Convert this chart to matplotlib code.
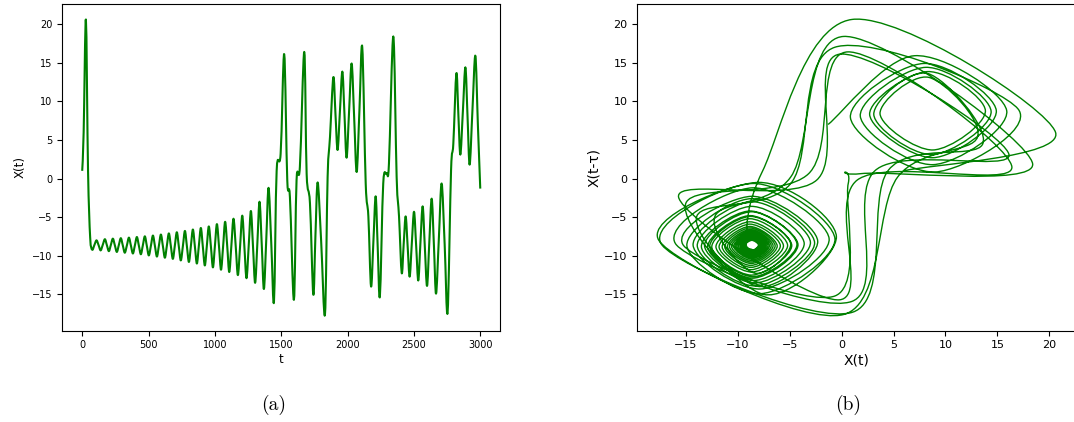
import numpy as np
import matplotlib
matplotlib.use("Agg")
import matplotlib.pyplot as plt
from matplotlib.path import Path
from matplotlib.patches import PathPatch

# Time series X(t): samples at peaks, troughs and mid-swings
t = [0, 11, 28, 44, 60, 75,
     92, 108, 124, 139, 155, 171, 186, 201, 216, 231, 246, 261, 276, 291,
     306, 321, 337, 352, 367, 382, 397, 412, 427, 442, 457, 472, 487, 502,
     518, 533, 548, 563, 578, 593, 608, 623, 638, 653, 668, 683, 698, 713,
     728, 743, 759, 774, 789, 804, 819, 834, 849, 864, 879, 894, 909, 924,
     939, 954, 970, 985, 1000, 1015, 1031, 1046, 1062, 1077, 1093, 1108,
     1124, 1140, 1157, 1173, 1190, 1206, 1222, 1238, 1255, 1271, 1287, 1303,
     1320, 1336, 1353, 1369, 1387, 1404, 1425, 1445,
     1465, 1495, 1522, 1545, 1565, 1595, 1615, 1640, 1673, 1691, 1716, 1741,
     1757, 1774, 1800, 1829, 1849, 1867, 1892, 1908, 1924, 1942, 1960, 1976,
     1992, 2011, 2030, 2049, 2068, 2089, 2110, 2136, 2156, 2176, 2194, 2211,
     2226, 2243, 2268, 2294, 2311, 2344, 2369, 2387, 2407, 2422, 2437, 2452,
     2467, 2483, 2500, 2516, 2532, 2548, 2565, 2581, 2598, 2615, 2633, 2650,
     2666, 2687, 2708, 2731, 2753, 2779, 2796, 2819, 2834, 2849, 2868, 2887,
     2903, 2919, 2940, 2962, 2981, 2999]
x = [1.0, 6.0, 20.6, 1.0, -7.6, -9.2,
     -8.6, -8.0, -8.65, -9.3, -8.58, -7.85, -8.63, -9.4, -8.59, -7.78, -8.64,
     -9.5, -8.61, -7.72, -8.66, -9.6, -8.63, -7.65, -8.68, -9.7, -8.64, -7.57,
     -8.69, -9.8, -8.64, -7.48, -8.72, -9.95, -8.67, -7.38, -8.74, -10.1,
     -8.68, -7.25, -8.75, -10.25, -8.68, -7.1, -8.75, -10.4, -8.68, -6.95,
     -8.78, -10.6, -8.69, -6.78, -8.79, -10.8, -8.7, -6.6, -8.8, -11.0, -8.7,
     -6.4, -8.83, -11.25, -8.73, -6.2, -8.85, -11.5, -8.7, -5.9, -8.85,
     -11.8, -8.7, -5.6, -8.85, -12.1, -8.65, -5.2, -8.85, -12.5, -8.65, -4.8,
     -8.85, -12.9, -8.55, -4.2, -8.85, -13.5, -8.25, -3.0, -8.65, -14.3,
     -7.8, -1.2, -8.6, -15.9,
     1.0, 3.2, 16.1, -0.2, -2.4, -15.7, -0.2, 1.5, 16.4, 0.6, -3.2, -15.0,
     -7.5, -0.5, -8.0, -17.6, 0.2, 5.4, 13.1, 8.4, 3.7, 8.8, 13.85, 8.3,
     2.7, 8.8, 14.9, 7.9, 0.85, 9.0, 17.0, -0.65, -4.9, -13.95, -8.1, -2.3,
     -8.7, -15.2, -0.64, 0.64, 1.9, 18.4, 0.2, -4.9, -12.2, -8.5, -4.9, -8.8,
     -12.7, -8.5, -4.3, -8.7, -13.2, -8.4, -3.6, -8.7, -13.9, -8.3, -2.6,
     -8.7, -14.9, -7.8, -0.64, -8.6, -17.3, 1.07, 4.5, 13.6, 8.3, 3.1, 8.7,
     14.4, 8.1, 1.8, 8.8, 15.9, 7.0, -1.3]

lag = 1  # delay tau, in samples

t_arr = np.asarray(t, dtype=float)
x_arr = np.asarray(x, dtype=float)


def smooth_path(px, py):
    """Cubic (Catmull-Rom style) Bezier path through the given points."""
    P = np.column_stack([px, py])
    ext = np.vstack([P[0], P, P[-1]])
    verts = [P[0]]
    codes = [Path.MOVETO]
    for i in range(len(P) - 1):
        p0, p1, p2, p3 = ext[i], ext[i + 1], ext[i + 2], ext[i + 3]
        verts += [p1 + (p2 - p0) / 6.0, p2 - (p3 - p1) / 6.0, p2]
        codes += [Path.CURVE4] * 3
    return Path(np.array(verts), codes), P


def draw_curve(ax, px, py, lw):
    path, P = smooth_path(px, py)
    ax.add_patch(PathPatch(path, fill=False, edgecolor=green, lw=lw,
                           joinstyle="round", capstyle="butt",
                           transform=ax.transData))
    ax.update_datalim(P)
    ax.autoscale_view()


green = "#008000"
fig = plt.figure(figsize=(10.74, 4.22), dpi=100)

ax1 = fig.add_axes([0.058, 0.2168, 0.4077, 0.773])
draw_curve(ax1, t_arr, x_arr, 1.5)
ax1.set_xticks([0, 500, 1000, 1500, 2000, 2500, 3000])
ax1.set_yticks([-15, -10, -5, 0, 5, 10, 15, 20])
ax1.tick_params(labelsize=7)
ax1.set_xlabel("t", fontsize=8.5, labelpad=2)
ax1.set_ylabel("X(t)", fontsize=8.5, labelpad=4)

ax2 = fig.add_axes([0.5934, 0.2168, 0.4083, 0.773])
draw_curve(ax2, x_arr[lag:], x_arr[:-lag], 1.0)
ax2.set_xticks([-15, -10, -5, 0, 5, 10, 15, 20])
ax2.set_yticks([-15, -10, -5, 0, 5, 10, 15, 20])
ax2.tick_params(labelsize=8)
ax2.set_xlabel("X(t)", fontsize=10, labelpad=2)
ax2.set_ylabel("X(t-\u03c4)", fontsize=10, labelpad=2)

fig.text(0.255, 0.04, "(a)", fontsize=14, family="cmr10", ha="center", va="center")
fig.text(0.79, 0.04, "(b)", fontsize=14, family="cmr10", ha="center", va="center")

fig.savefig("out.png", dpi=100)
